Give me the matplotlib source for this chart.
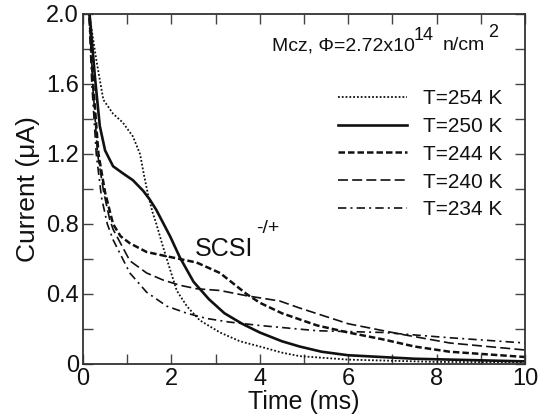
import matplotlib
matplotlib.use("Agg")
import matplotlib.pyplot as plt
from matplotlib.ticker import MultipleLocator, FuncFormatter

plt.rcParams['font.family'] = ['Liberation Sans', 'DejaVu Sans']

# T = 254 K (dotted)
t_254 = [0.1, 0.16, 0.3, 0.46, 0.68, 0.9, 1.13, 1.29, 1.38, 1.47, 1.57, 1.66, 1.81, 1.97,
         2.12, 2.35, 2.64, 3.1, 3.55, 4.0, 4.5, 4.9, 6.0, 8.0, 10.0]
i_254 = [2.1, 1.97, 1.74, 1.51, 1.43, 1.38, 1.30, 1.20, 1.08, 0.97, 0.87, 0.80, 0.67, 0.54,
         0.42, 0.33, 0.25, 0.18, 0.13, 0.10, 0.065, 0.045, 0.025, 0.012, 0.01]

# T = 250 K (solid)
t_250 = [0.1, 0.16, 0.27, 0.38, 0.5, 0.68, 0.9, 1.13, 1.36, 1.51, 1.66, 1.97, 2.19, 2.5,
         2.85, 3.2, 3.6, 4.0, 4.5, 4.9, 5.4, 6.0, 7.5, 10.0]
i_250 = [2.1, 1.97, 1.64, 1.36, 1.22, 1.13, 1.09, 1.05, 0.99, 0.94, 0.88, 0.73, 0.61, 0.47,
         0.37, 0.29, 0.23, 0.18, 0.13, 0.10, 0.07, 0.05, 0.03, 0.015]

# T = 244 K (short dash)
t_244 = [0.1, 0.15, 0.23, 0.35, 0.5, 0.68, 0.85, 1.06, 1.44, 1.81, 2.19, 2.57, 3.1, 3.7,
         4.0, 4.5, 5.3, 6.0, 6.8, 7.5, 8.3, 10.0]
i_244 = [2.1, 1.97, 1.6, 1.2, 0.98, 0.80, 0.73, 0.69, 0.64, 0.62, 0.60, 0.58, 0.52, 0.40,
         0.35, 0.29, 0.22, 0.18, 0.14, 0.10, 0.07, 0.04]

# T = 240 K (long dash)
t_240 = [0.1, 0.15, 0.22, 0.33, 0.47, 0.6, 0.68, 1.06, 1.44, 1.81, 2.19, 2.57, 3.1, 3.7,
         4.45, 4.9, 6.0, 7.2, 8.3, 10.0]
i_240 = [2.1, 1.97, 1.6, 1.2, 0.98, 0.83, 0.77, 0.59, 0.52, 0.48, 0.45, 0.43, 0.42, 0.39,
         0.36, 0.32, 0.23, 0.17, 0.12, 0.08]

# T = 234 K (dash-dot)
t_234 = [0.1, 0.14, 0.2, 0.3, 0.42, 0.55, 0.68, 1.06, 1.44, 1.9, 2.35, 2.8, 3.3, 4.0,
         5.3, 6.8, 8.3, 10.0]
i_234 = [2.1, 1.97, 1.6, 1.2, 0.95, 0.80, 0.71, 0.52, 0.41, 0.33, 0.29, 0.26, 0.24, 0.22,
         0.19, 0.18, 0.15, 0.12]

labels = ['T=254 K', 'T=250 K', 'T=244 K', 'T=240 K', 'T=234 K']

fig = plt.figure(figsize=(5.57, 4.18), dpi=100)
ax = fig.add_axes([83 / 557, 54 / 418, 442 / 557, 350 / 418])

ink = '#111111'
ax.plot(t_254, i_254, color=ink, lw=1.3, linestyle=(0, (1, 1.1)), label=labels[0])
ax.plot(t_250, i_250, color=ink, lw=1.9, linestyle='-', label=labels[1])
ax.plot(t_244, i_244, color=ink, lw=1.8, linestyle=(0, (2.6, 1.2)), label=labels[2])
ax.plot(t_240, i_240, color=ink, lw=1.2, linestyle=(0, (6, 2.5)), label=labels[3])
ax.plot(t_234, i_234, color=ink, lw=1.2, linestyle=(0, (5, 2.5, 1.2, 2.5)), label=labels[4])

ax.set_xlim(0, 10)
ax.set_ylim(0, 2.0)

ax.xaxis.set_major_locator(MultipleLocator(2))
ax.xaxis.set_minor_locator(MultipleLocator(1))
ax.yaxis.set_major_locator(MultipleLocator(0.4))
ax.yaxis.set_minor_locator(MultipleLocator(0.2))
ax.yaxis.set_major_formatter(FuncFormatter(lambda v, p: '0' if abs(v) < 1e-9 else '%.1f' % v))
ax.xaxis.set_major_formatter(FuncFormatter(lambda v, p: '%d' % round(v)))

for which in ('major', 'minor'):
    ax.tick_params(which=which, direction='in', length=7, width=1.0, color='#444444',
                   top=True, right=True)
ax.tick_params(axis='x', which='major', labelsize=17, pad=3, labelcolor=ink)
ax.tick_params(axis='y', which='major', labelsize=17, pad=3, labelcolor=ink)

for s in ax.spines.values():
    s.set_linewidth(1.3)
    s.set_color('#333333')

ax.set_xlabel('Time (ms)', fontsize=18, labelpad=0, color=ink)
ax.set_ylabel('Current (μA)', fontsize=19, labelpad=4, color=ink)

leg = ax.legend(loc='upper right', bbox_to_anchor=(0.948, 0.785), frameon=False,
                fontsize=15, handlelength=3.3, handletextpad=0.75, labelspacing=0.42,
                borderpad=0, borderaxespad=0)
for txt in leg.get_texts():
    txt.set_color(ink)

ax.text(0.428, 0.897, 'Mcz, Φ=2.72x10', transform=ax.transAxes, fontsize=14,
        va='baseline', ha='left', color=ink)
ax.text(0.747, 0.926, '14', transform=ax.transAxes, fontsize=13,
        va='baseline', ha='left', color=ink)
ax.text(0.814, 0.897, 'n/cm', transform=ax.transAxes, fontsize=14,
        va='baseline', ha='left', color=ink)
ax.text(0.916, 0.934, '2', transform=ax.transAxes, fontsize=13,
        va='baseline', ha='left', color=ink)

ax.text(0.253, 0.309, 'SCSI', transform=ax.transAxes, fontsize=18,
        va='baseline', ha='left', color=ink)
ax.text(0.392, 0.374, '-/+', transform=ax.transAxes, fontsize=14,
        va='baseline', ha='left', color=ink)

fig.savefig('out.png', dpi=100)
